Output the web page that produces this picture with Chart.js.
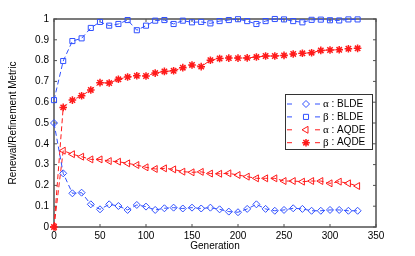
<!DOCTYPE html>
<html>
<head>
<meta charset="utf-8">
<script src="https://cdn.jsdelivr.net/npm/chart.js@4"></script>
<style>
  html, body { margin: 0; padding: 0; background: #fff; }
  #wrap { width: 415px; height: 256px; }
</style>
</head>
<body>
<div id="wrap"><canvas id="metricChart" width="415" height="256"></canvas></div>
<script>
const generations = [0, 10, 20, 30, 40, 50, 60, 70, 80, 90, 100, 110, 120, 130, 140, 150, 160,
    170, 180, 190, 200, 210, 220, 230, 240, 250, 260, 270, 280, 290, 300, 310, 320, 330];

const alphaBLDE = [0.50, 0.258, 0.162, 0.165, 0.109, 0.085, 0.109, 0.101, 0.082, 0.106, 0.098, 0.082,
    0.090, 0.093, 0.089, 0.093, 0.089, 0.093, 0.085, 0.074, 0.071, 0.087, 0.109, 0.087, 0.078, 0.082,
    0.090, 0.087, 0.078, 0.078, 0.082, 0.082, 0.078, 0.078];
const betaBLDE = [0.61, 0.798, 0.894, 0.907, 0.957, 0.986, 0.968, 0.976, 0.995, 0.946, 0.968, 0.992,
    0.995, 0.976, 0.992, 0.984, 0.986, 0.979, 0.990, 0.995, 0.999, 0.990, 0.976, 0.990, 1.0, 0.998,
    0.990, 0.984, 0.996, 0.997, 0.994, 0.993, 0.998, 0.998];
const alphaAQDE = [0, 0.367, 0.350, 0.338, 0.325, 0.325, 0.317, 0.314, 0.306, 0.298, 0.287, 0.279,
    0.282, 0.277, 0.266, 0.263, 0.265, 0.257, 0.256, 0.258, 0.250, 0.242, 0.234, 0.234, 0.234, 0.221,
    0.221, 0.218, 0.221, 0.221, 0.210, 0.218, 0.210, 0.197];
const betaAQDE = [0, 0.575, 0.610, 0.631, 0.659, 0.694, 0.692, 0.710, 0.721, 0.727, 0.726, 0.740,
    0.748, 0.751, 0.766, 0.779, 0.771, 0.802, 0.810, 0.812, 0.812, 0.813, 0.817, 0.822, 0.822, 0.825,
    0.832, 0.835, 0.838, 0.849, 0.851, 0.852, 0.857, 0.859];

const seriesNames = [["\u03b1", " : BLDE"], ["\u03b2", " : BLDE"], ["\u03b1", " : AQDE"], ["\u03b2", " : AQDE"]];
const xTickValues = [0, 50, 100, 150, 200, 250, 300, 350];
const yTickValues = [0, 0.1, 0.2, 0.3, 0.4, 0.5, 0.6, 0.7, 0.8, 0.9, 1];

const BLUE = "#3050ff";
const RED = "#ff1a1a";
const SANS = "'Liberation Sans', Arial, sans-serif";
const SERIF = "'Liberation Serif', 'Times New Roman', serif";

function toPoints(values) {
    return generations.map((g, i) => ({ x: g, y: values[i] }));
}

function series(idx, values, color, style, radius, rotation, markerWidth) {
    return {
        label: seriesNames[idx].join(""),
        data: toPoints(values),
        borderColor: color,
        borderWidth: 1,
        borderDash: [5, 3],
        pointStyle: style,
        pointRadius: radius,
        pointRotation: rotation || 0,
        pointBorderColor: color,
        pointBackgroundColor: "rgba(0,0,0,0)",
        pointBorderWidth: markerWidth || 1,
        tension: 0,
        clip: false
    };
}

// box + inward ticks like the original figure
const framePlugin = {
    id: "frame",
    beforeDatasetsDraw(chart) {
        const { ctx, chartArea: a, scales } = chart;
        ctx.save();
        ctx.strokeStyle = "#505050";
        ctx.lineWidth = 1.5;
        ctx.strokeRect(a.left, a.top, a.right - a.left, a.bottom - a.top);
        ctx.lineWidth = 1;
        ctx.beginPath();
        xTickValues.forEach(v => {
            const px = scales.x.getPixelForValue(v);
            ctx.moveTo(px, a.bottom); ctx.lineTo(px, a.bottom - 3);
            ctx.moveTo(px, a.top); ctx.lineTo(px, a.top + 3);
        });
        yTickValues.forEach(v => {
            const py = scales.y.getPixelForValue(v);
            ctx.moveTo(a.left, py); ctx.lineTo(a.left + 3, py);
            ctx.moveTo(a.right, py); ctx.lineTo(a.right - 3, py);
        });
        ctx.stroke();
        ctx.restore();
    }
};

function drawMarker(ctx, ds, x, y) {
    const opts = {
        pointStyle: ds.pointStyle,
        radius: ds.pointRadius,
        rotation: ds.pointRotation,
        borderWidth: ds.pointBorderWidth
    };
    ctx.strokeStyle = ds.pointBorderColor;
    ctx.fillStyle = "rgba(0,0,0,0)";
    ctx.lineWidth = ds.pointBorderWidth;
    ctx.setLineDash([]);
    Chart.helpers.drawPoint(ctx, opts, x, y);
}

const legendPlugin = {
    id: "boxLegend",
    afterDatasetsDraw(chart) {
        const ctx = chart.ctx;
        const box = { x: 285, y: 94, w: 87, h: 55 };
        ctx.save();
        ctx.fillStyle = "#fff";
        ctx.fillRect(box.x, box.y, box.w, box.h);
        ctx.strokeStyle = "#333";
        ctx.lineWidth = 1;
        ctx.strokeRect(box.x + 0.5, box.y + 0.5, box.w, box.h);
        chart.data.datasets.forEach((ds, i) => {
            const cy = 104 + i * 12.9;
            ctx.strokeStyle = ds.borderColor;
            ctx.lineWidth = 1;
            ctx.setLineDash([]);
            ctx.beginPath();
            ctx.moveTo(287, cy); ctx.lineTo(292, cy);
            ctx.moveTo(315, cy); ctx.lineTo(320, cy);
            ctx.stroke();
            drawMarker(ctx, ds, 306, cy);
            ctx.fillStyle = "#000";
            ctx.textBaseline = "middle";
            ctx.textAlign = "left";
            ctx.font = "11px " + SERIF;
            ctx.fillText(seriesNames[i][0], 323, cy);
            const w = ctx.measureText(seriesNames[i][0]).width;
            ctx.font = "10px " + SANS;
            ctx.fillText(seriesNames[i][1], 323 + w, cy);
        });
        ctx.restore();
    }
};

const chart = new Chart(document.getElementById("metricChart"), {
    type: "line",
    data: {
        datasets: [
            series(0, alphaBLDE, BLUE, "rectRot", 3.5),
            series(1, betaBLDE, BLUE, "rect", 3.6),
            series(2, alphaAQDE, RED, "triangle", 4, -90),
            series(3, betaAQDE, RED, "star", 3.8, 0, 1.5)
        ]
    },
    options: {
        responsive: false,
        animation: false,
        layout: { padding: { top: 19, right: 39, left: 0, bottom: 0 } },
        plugins: { legend: { display: false }, tooltip: { enabled: false } },
        scales: {
            x: {
                type: "linear",
                min: 0,
                max: 350,
                afterFit(scale) { scale.height = 29; },
                afterBuildTicks(scale) { scale.ticks = xTickValues.map(v => ({ value: v })); },
                grid: { display: false, drawTicks: false },
                border: { display: false },
                ticks: { padding: 3, color: "#000", font: { family: SANS, size: 10 }, maxRotation: 0 },
                title: { display: true, text: "Generation", color: "#000",
                    font: { family: SANS, size: 10 }, padding: { top: 0, bottom: 4 } }
            },
            y: {
                min: 0,
                max: 1,
                afterFit(scale) { scale.width = 54; },
                afterBuildTicks(scale) { scale.ticks = yTickValues.map(v => ({ value: v })); },
                grid: { display: false, drawTicks: false },
                border: { display: false },
                ticks: { padding: 5, color: "#000", font: { family: SANS, size: 10 },
                    callback: v => String(Math.round(v * 10) / 10) },
                title: { display: true, text: "Renewal/Refinement Metric", color: "#000",
                    font: { family: SANS, size: 10 }, padding: { top: 7, bottom: 0 } }
            }
        }
    },
    plugins: [framePlugin, legendPlugin]
});
</script>
</body>
</html>
